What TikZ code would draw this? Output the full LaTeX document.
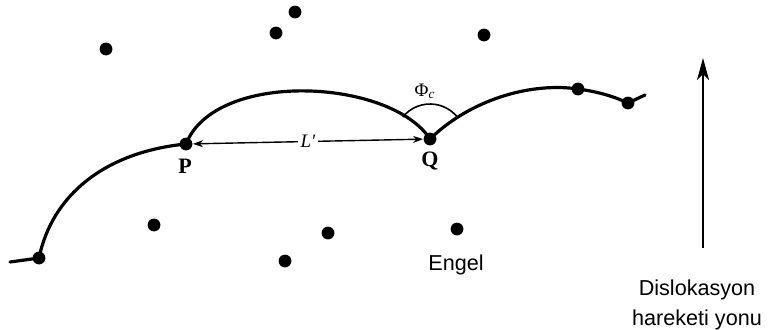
\documentclass[tikz,border=0pt]{standalone}
\usepackage{fontspec}
\setmainfont{Liberation Serif}
\newfontfamily\labelfont{Liberation Sans}
\usetikzlibrary{positioning,arrows.meta}

\begin{document}
\begin{tikzpicture}[x=0.5pt, y=0.5pt,
    disloc/.style={line width=1.6pt, line cap=round, line join=round},
    pin/.style={fill=black},
    lbl/.style={font=\labelfont\fontsize{10.8}{13.5}\selectfont, align=center, inner sep=0pt},
    pq/.style={font=\bfseries\fontsize{11}{13}\selectfont, inner sep=0pt},
  ]
    \useasboundingbox (0,0) rectangle (769,329);

    % Engeller
    \coordinate (s) at (10,67);
    \coordinate (A) at (39,71);
    \coordinate (P) at (186,185);
    \coordinate (Q) at (430,190);
    \coordinate (B) at (578,240);
    \coordinate (C) at (628,226);
    \coordinate (e) at (645,234);
    \coordinate (o1) at (106,280);
    \coordinate (o2) at (295,317);
    \coordinate (o3) at (276,296);
    \coordinate (o4) at (484,294);
    \coordinate (o5) at (154,104);
    \coordinate (o6) at (328,96);
    \coordinate (o7) at (285,68);
    \coordinate (engel) at (457,100);

    % Dislokasyon hatti
    \draw[disloc] (s) -- (A) .. controls (52,134) and (105,177) .. (P);
    \draw[disloc] (P) .. controls (215,259) and (390,251) .. (Q);
    \draw[disloc] (Q) .. controls (470,229) and (530,247) .. (B)
        .. controls (600,237) and (615,232) .. (C) -- (e);

    \foreach \o in {A,P,Q,B,C,o1,o2,o3,o4,o5,o6,o7,engel}
        \fill[pin] (\o) circle (3.2pt);

    % Kritik aci
    \draw[line width=0.8pt] ([shift={(141:17.5pt)}]Q) arc[start angle=141, end angle=40, radius=17.5pt];
    \node (phi) at (425,238) {\fontsize{9.5}{11}\selectfont Φ\textsubscript{\itshape c}};

    % L'
    \draw[<->, >={Stealth[length=5pt,width=3.5pt]}, line width=0.7pt, shorten <=3.5pt, shorten >=3.5pt]
        (P) -- node[fill=white, inner sep=1.5pt, font=\itshape\fontsize{9.5}{11}\selectfont] (len) {L′} (Q);
    \node[pq] (Plbl) at (185,163) {P};
    \node[pq] (Qlbl) at (430,168) {Q};

    \node[lbl] (engeltxt) at (456,64) {Engel};

    % Hareket yonu
    \coordinate (m0) at (703,81);
    \coordinate (m1) at (703,271);
    \draw[->, >={Stealth[length=11pt,width=6pt,inset=3pt]}, line width=0.7pt] (m0) -- (m1);
    \node[lbl] (yon) at (697,24) {Dislokasyon\\[1.2pt]hareketi yonu};
\end{tikzpicture}
\end{document}
